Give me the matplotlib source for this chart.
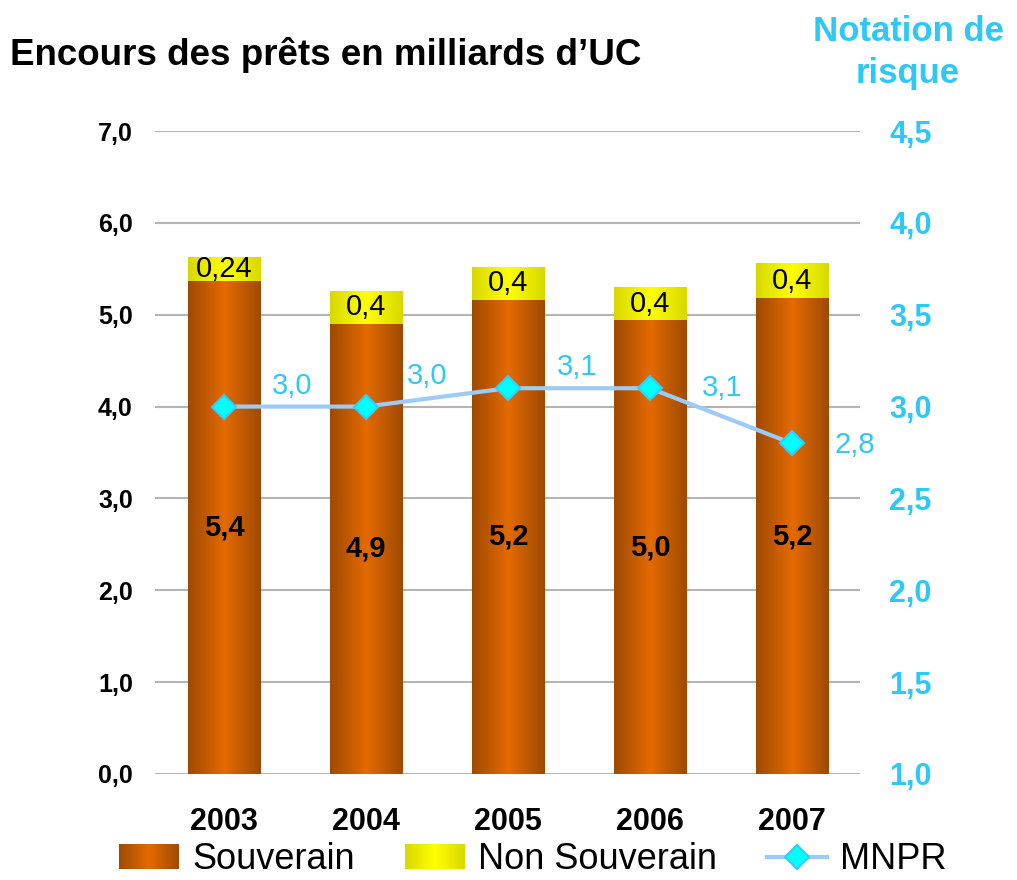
import numpy as np
import matplotlib.pyplot as plt
from matplotlib.colors import LinearSegmentedColormap
from matplotlib.legend_handler import HandlerBase
from matplotlib.patches import Rectangle, Patch
from matplotlib.lines import Line2D

plt.rcParams['font.family'] = ['Liberation Sans', 'DejaVu Sans']

years = ['2003', '2004', '2005', '2006', '2007']
souverain = [5.37, 4.90, 5.16, 4.94, 5.18]
non_souverain = [0.26, 0.36, 0.36, 0.36, 0.38]
souv_labels = ['5,4', '4,9', '5,2', '5,0', '5,2']
ns_labels = ['0,24', '0,4', '0,4', '0,4', '0,4']
mnpr = [3.0, 3.0, 3.1, 3.1, 2.8]
mnpr_labels = ['3,0', '3,0', '3,1', '3,1', '2,8']
left_ticks = [0, 1, 2, 3, 4, 5, 6, 7]
right_ticks = [1.0, 1.5, 2.0, 2.5, 3.0, 3.5, 4.0, 4.5]

cyan_txt = '#2EC8F8'
orange_cmap = LinearSegmentedColormap.from_list('o', ['#9E4A02', '#E46A00', '#9E4A02'])
yellow_cmap = LinearSegmentedColormap.from_list('y', ['#D8D800', '#FFFF00', '#D8D800'])
grad = np.linspace(0, 1, 256).reshape(1, -1)

fig = plt.figure(figsize=(10.17, 8.8), dpi=100)
ax = fig.add_axes([0.1524, 0.1205, 0.6932, 0.7306])
ax2 = ax.twinx()

x = np.arange(len(years))
w = 0.51
ax.set_yticks(left_ticks)
ax.set_yticklabels([f'{v:.1f}'.replace('.', ',') for v in left_ticks],
                   fontsize=18, fontweight='bold')
ax.grid(axis='y', color='#B4B4B4', lw=1.5)
ax.set_axisbelow(True)

b1 = ax.bar(x, souverain, w, color='none', edgecolor='none')
b2 = ax.bar(x, non_souverain, w, bottom=souverain, color='none', edgecolor='none')
for bars, cmap in ((b1, orange_cmap), (b2, yellow_cmap)):
    for r in bars:
        x0, y0 = r.get_x(), r.get_y()
        im = ax.imshow(grad, cmap=cmap, aspect='auto', zorder=2,
                       extent=[x0, x0 + r.get_width(), y0, y0 + r.get_height()])
        im.set_clip_path(r)
ax.set_xlim(-0.486, 4.48)
ax.set_ylim(0, 7)

for i in range(len(years)):
    ax.text(x[i], souverain[i] / 2, souv_labels[i], ha='center', va='center',
            fontsize=21, fontweight='bold', zorder=5)
    ax.text(x[i], souverain[i] + non_souverain[i] / 2, ns_labels[i], ha='center',
            va='center', fontsize=21, zorder=5)

ax.set_xticks(x)
ax.set_xticklabels(years, fontsize=22, fontweight='bold')
ax.tick_params(axis='both', length=0)
ax.tick_params(axis='y', pad=16)
ax.tick_params(axis='x', pad=24)
for s in ax.spines.values():
    s.set_visible(False)

ax2.set_ylim(1, 4.5)
ax2.set_yticks(right_ticks)
ax2.set_yticklabels([f'{v:.1f}'.replace('.', ',') for v in right_ticks],
                    fontsize=22, fontweight='bold', color=cyan_txt)
ax2.tick_params(axis='y', length=0, pad=21)
for s in ax2.spines.values():
    s.set_visible(False)
ax2.plot(x, mnpr, color='#9CCBFA', lw=3, marker='D', ms=12.5,
         mfc='#00FFFF', mec='#33CCFF', mew=1.5, zorder=4)
offsets = [(49, 15), (44, 22), (50, 15), (52, 0), (45, -1)]
for i in range(len(years)):
    ax2.annotate(mnpr_labels[i], (x[i], mnpr[i]), xytext=offsets[i],
                 textcoords='offset points', ha='center', va='center',
                 fontsize=21, color=cyan_txt)

fig.text(0.01, 0.938, 'Encours des prêts en milliards d\u2019UC', fontsize=26.5,
         fontweight='bold', va='center')
fig.text(0.893, 0.94, 'Notation de\nrisque', fontsize=25, fontweight='bold',
         color=cyan_txt, ha='center', va='center', linespacing=1.35)


class GradHandler(HandlerBase):
    def __init__(self, cmap):
        super().__init__()
        self.cmap = cmap

    def create_artists(self, legend, orig_handle, xdescent, ydescent, width,
                       height, fontsize, trans):
        n = 30
        arts = []
        for k in range(n):
            arts.append(Rectangle((-xdescent + k * width / n, -ydescent),
                                  width / n * 1.05, height,
                                  facecolor=self.cmap((k + 0.5) / n),
                                  edgecolor='none', transform=trans))
        return arts


h1 = Patch(label='Souverain')
h2 = Patch(label='Non Souverain')
h3 = Line2D([], [], color='#9CCBFA', lw=3, marker='D', ms=12.5,
            mfc='#00FFFF', mec='#33CCFF', mew=1.5, label='MNPR')
fig.legend(handles=[h1, h2, h3], loc='lower center', ncol=3,
           bbox_to_anchor=(0.524, -0.034), frameon=False, fontsize=26,
           handlelength=1.66, handletextpad=0.36, columnspacing=1.39,
           handler_map={h1: GradHandler(orange_cmap), h2: GradHandler(yellow_cmap)})

fig.savefig('out.png', dpi=100)
